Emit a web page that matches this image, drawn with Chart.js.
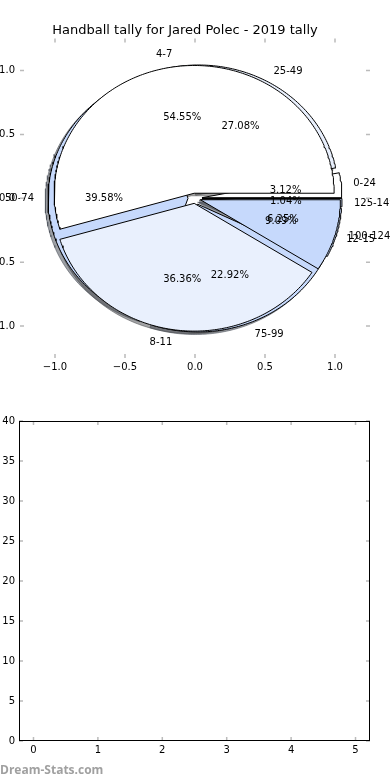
<!DOCTYPE html>
<html>
<head>
<meta charset="utf-8">
<script src="https://cdn.jsdelivr.net/npm/chart.js@4.4.1/dist/chart.umd.min.js"></script>
<style>
  html, body { margin: 0; padding: 0; background: #fff; }
  body { width: 390px; height: 780px; position: relative; overflow: hidden; font-family: 'DejaVu Sans', sans-serif; }
  #pieBox { position: absolute; left: 0; top: 0; width: 390px; height: 390px; }
  #barBox { position: absolute; left: 0; top: 390px; width: 390px; height: 390px; }
  .watermark { position: absolute; left: 0; top: 761px; font-family: 'Open Sans', sans-serif; font-weight: bold; font-size: 12px; color: #a0a0a0; }
</style>
</head>
<body>
<div id="pieBox"><canvas id="pieChart" width="390" height="390"></canvas></div>
<div id="barBox"><canvas id="barChart" width="390" height="390"></canvas></div>
<div class="watermark">Dream-Stats.com</div>
<script>
// Chart data
const chartTitle = 'Handball tally for Jared Polec - 2019 tally';
const pieOneLabels = ['4-7', '8-11', '12-15'];
const pieOneValues = [6, 4, 1];
const pieTwoLabels = ['0-24', '25-49', '50-74', '75-99', '100-124', '125-149'];
const pieTwoValues = [3, 26, 38, 22, 6, 1];
const pieTicks = [-1, -0.5, 0, 0.5, 1];
const barCategories = [0, 1, 2, 3, 4, 5];
const barValues = [0, 0, 0, 0, 0, 0];
const barYTicks = [0, 5, 10, 15, 20, 25, 30, 35, 40];

// Styles
const WHITE = '#ffffff', PALE = '#e9f0fd', SOFT = '#c6d9fc';
const pieOneColors = [WHITE, PALE, SOFT];
const pieTwoColors = [WHITE, PALE, SOFT, SOFT, SOFT, SOFT];
const pieOneExplode = 0.04;
const pieTwoExplode = 0.05;
const tickGrey = '#bbbbbb';

Chart.defaults.font.family = "'DejaVu Sans', sans-serif";
Chart.defaults.font.size = 10;
Chart.defaults.color = '#000';

// Work out each wedge like matplotlib: start at 3 o'clock, counter-clockwise
function buildWedges(values, explode) {
    const total = values.reduce((a, b) => a + b, 0);
    let start = 0;
    return values.map(v => {
        const sweep = 360 * v / total;
        const mid = (start + sweep / 2) * Math.PI / 180;
        const w = {
            start: start,
            end: start + sweep,
            mid: mid,
            cx: explode * Math.cos(mid),
            cy: explode * Math.sin(mid),
            pct: 100 * v / total
        };
        start += sweep;
        return w;
    });
}

function wedgePoints(w, dx, dy) {
    const ox = w.cx + dx, oy = w.cy + dy;
    const pts = [{ x: ox, y: oy }];
    const n = Math.max(2, Math.ceil(w.end - w.start));
    for (let i = 0; i <= n; i++) {
        const t = (w.start + (w.end - w.start) * i / n) * Math.PI / 180;
        pts.push({ x: ox + Math.cos(t), y: oy + Math.sin(t) });
    }
    pts.push({ x: ox, y: oy });
    return pts;
}

function shade(hex) {
    const n = parseInt(hex.slice(1), 16);
    const r = Math.round(((n >> 16) & 255) * 0.3);
    const g = Math.round(((n >> 8) & 255) * 0.3);
    const b = Math.round((n & 255) * 0.3);
    return 'rgba(' + r + ',' + g + ',' + b + ',0.5)';
}

// python style '%1.2f%%' (round half to even)
function pctText(v) {
    const s = v * 100;
    let f = Math.floor(s);
    const d = s - f;
    if (Math.abs(d - 0.5) < 1e-9) {
        if (f % 2 === 1) f += 1;
    } else if (d > 0.5) {
        f += 1;
    }
    return (f / 100).toFixed(2) + '%';
}

const pieOneWedges = buildWedges(pieOneValues, pieOneExplode);
const pieTwoWedges = buildWedges(pieTwoValues, pieTwoExplode);

function wedgeDataset(points, fillColor, lineColor) {
    return {
        data: points,
        fill: 'shape',
        backgroundColor: fillColor,
        borderColor: lineColor,
        borderWidth: 1,
        pointRadius: 0,
        tension: 0,
        borderJoinStyle: 'miter'
    };
}

// shadows under everything, then the lower pie, then the upper pie
const layers = [];
pieTwoWedges.forEach((w, i) => {
    const c = shade(pieTwoColors[i]);
    layers.push(wedgeDataset(wedgePoints(w, -0.02, -0.02), c, c));
});
pieOneWedges.forEach((w, i) => {
    const c = shade(pieOneColors[i]);
    layers.push(wedgeDataset(wedgePoints(w, -0.02, -0.02), c, c));
});
pieTwoWedges.forEach((w, i) => layers.push(wedgeDataset(wedgePoints(w, 0, 0), pieTwoColors[i], '#000')));
pieOneWedges.forEach((w, i) => layers.push(wedgeDataset(wedgePoints(w, 0, 0), pieOneColors[i], '#000')));
layers.forEach((d, i) => { d.order = layers.length - i; });

function fmtTick(v) {
    return v.toFixed(1).replace('-', '\u2212');
}

// Ticks pointing inward on all four sides (plus optional frame)
const innerTicks = {
    id: 'innerTicks',
    afterDraw(chart, args, opts) {
        const { ctx, chartArea: a, scales: { x, y } } = chart;
        const len = 4;
        ctx.save();
        ctx.strokeStyle = tickGrey;
        ctx.lineWidth = 1.5;
        ctx.beginPath();
        x.ticks.forEach(t => {
            const px = x.getPixelForValue(t.value);
            ctx.moveTo(px, a.top); ctx.lineTo(px, a.top + len);
            ctx.moveTo(px, a.bottom); ctx.lineTo(px, a.bottom - len);
        });
        y.ticks.forEach(t => {
            const py = y.getPixelForValue(t.value);
            ctx.moveTo(a.left, py); ctx.lineTo(a.left + len, py);
            ctx.moveTo(a.right, py); ctx.lineTo(a.right - len, py);
        });
        ctx.stroke();
        if (opts.frame) {
            ctx.strokeStyle = '#000';
            ctx.lineWidth = 1;
            ctx.strokeRect(a.left + 0.5, a.top + 0.5, a.width - 1, a.height - 1);
        }
        ctx.restore();
    }
};

// Slice names and percentages
const pieText = {
    id: 'pieText',
    afterDatasetsDraw(chart) {
        const { ctx, scales: { x, y } } = chart;
        ctx.save();
        ctx.font = "10px 'DejaVu Sans'";
        ctx.fillStyle = '#000';
        ctx.textBaseline = 'middle';
        const groups = [[pieTwoWedges, pieTwoLabels], [pieOneWedges, pieOneLabels]];
        groups.forEach(([wedges, labels]) => {
            wedges.forEach((w, i) => {
                const lx = w.cx + 1.1 * Math.cos(w.mid);
                const ly = w.cy + 1.1 * Math.sin(w.mid);
                ctx.textAlign = lx > 0 ? 'left' : 'right';
                const shift = lx > 0 ? -2 : 0;
                ctx.fillText(labels[i], x.getPixelForValue(lx) + shift, y.getPixelForValue(ly));
                const tx = w.cx + 0.6 * Math.cos(w.mid);
                const ty = w.cy + 0.6 * Math.sin(w.mid);
                ctx.textAlign = 'center';
                ctx.fillText(pctText(w.pct), x.getPixelForValue(tx), y.getPixelForValue(ty));
            });
        });
        ctx.restore();
    }
};

new Chart(document.getElementById('pieChart'), {
    type: 'line',
    data: { datasets: layers },
    options: {
        responsive: false,
        animation: false,
        events: [],
        layout: { padding: { left: 0, right: 20, top: 0, bottom: 0 } },
        plugins: {
            legend: { display: false },
            tooltip: { enabled: false },
            title: {
                display: true,
                text: chartTitle,
                color: '#000',
                font: { size: 13, weight: 'normal' },
                padding: { top: 23, bottom: 0 }
            },
            innerTicks: { frame: false }
        },
        scales: {
            x: {
                type: 'linear',
                min: -1.25,
                max: 1.25,
                grid: { display: false, drawTicks: false },
                border: { display: false },
                afterBuildTicks: s => { s.ticks = pieTicks.map(v => ({ value: v })); },
                afterFit: s => { s.height = 32; },
                ticks: { padding: 3, maxRotation: 0, callback: v => fmtTick(v) }
            },
            y: {
                type: 'linear',
                min: -1.25,
                max: 1.25,
                grid: { display: false, drawTicks: false },
                border: { display: false },
                afterBuildTicks: s => { s.ticks = pieTicks.map(v => ({ value: v })); },
                afterFit: s => { s.width = 20; },
                ticks: { padding: 5, callback: v => fmtTick(v) }
            }
        }
    },
    plugins: [innerTicks, pieText]
});

new Chart(document.getElementById('barChart'), {
    type: 'bar',
    data: {
        datasets: [{
            data: barCategories.map((c, i) => ({ x: c, y: barValues[i] })),
            backgroundColor: SOFT,
            borderWidth: 0
        }]
    },
    options: {
        responsive: false,
        animation: false,
        events: [],
        layout: { padding: { left: 0, right: 20, top: 31, bottom: 0 } },
        plugins: {
            legend: { display: false },
            tooltip: { enabled: false },
            innerTicks: { frame: true }
        },
        scales: {
            x: {
                type: 'linear',
                offset: false,
                min: -0.225,
                max: 5.225,
                grid: { display: false, offset: false, drawTicks: false },
                border: { display: false },
                afterBuildTicks: s => { s.ticks = barCategories.map(v => ({ value: v })); },
                afterFit: s => { s.height = 39; },
                ticks: { padding: 3, maxRotation: 0, callback: v => String(v) }
            },
            y: {
                type: 'linear',
                min: 0,
                max: 40,
                grid: { display: false, drawTicks: false },
                border: { display: false },
                afterBuildTicks: s => { s.ticks = barYTicks.map(v => ({ value: v })); },
                afterFit: s => { s.width = 19; },
                ticks: { padding: 4, callback: v => String(v) }
            }
        }
    },
    plugins: [innerTicks]
});
</script>
</body>
</html>
